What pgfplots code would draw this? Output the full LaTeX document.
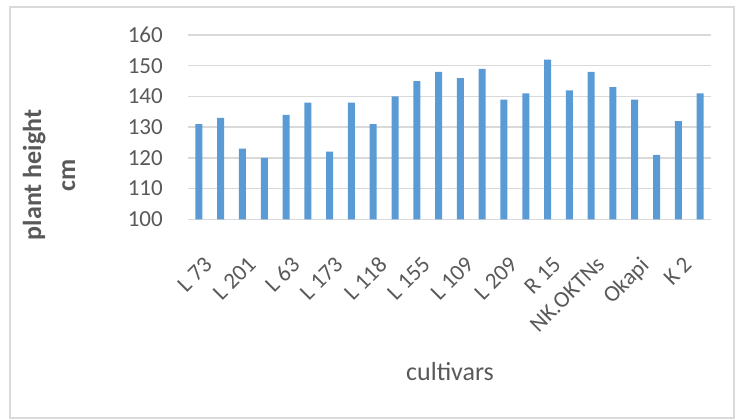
\documentclass[border=0pt]{standalone}
\usepackage{pgfplots}
\pgfplotsset{compat=1.18}
\usepackage{fontspec}
\setmainfont{Carlito}
\definecolor{barblue}{HTML}{5B9BD5}
\definecolor{gridgray}{HTML}{D9D9D9}
\definecolor{txtgray}{HTML}{595959}
\begin{document}
\begin{tikzpicture}
\useasboundingbox (0bp,0bp) rectangle (735bp,419bp);
% chart frame
\draw[gridgray, line width=1.2bp] (10bp,1bp) rectangle (734bp,412bp);
\begin{axis}[
  at={(188bp,199.7bp)}, anchor=south west,
  scale only axis, width=523bp, height=184.3bp,
  xmin=0.5, xmax=24.5, ymin=100, ymax=160,
  ytick={100,110,...,160},
  xtick={1,3,...,23},
  xticklabels={L 73,L 201,L 63,L 173,L 118,L 155,L 109,L 209,R 15,NK.OKTNs,Okapi,K 2},
  major tick length=0pt,
  axis line style={draw=none},
  ymajorgrids, grid style={gridgray, line width=1.5bp},
  /pgf/number format/assume math mode=true,
  tick label style={font=\fontsize{23bp}{26bp}\selectfont, text=txtgray},
  yticklabel style={anchor=east, inner sep=0pt, xshift=-25bp},
  xticklabel style={anchor=north east, inner sep=0pt, xshift=4bp, yshift=-36bp, rotate=45},
  clip=false,
]
\addplot[ybar, bar width=7bp, fill=barblue, draw=none] coordinates {
  (1,131) (2,133) (3,123) (4,120) (5,134) (6,138) (7,122) (8,138)
  (9,131) (10,140) (11,145) (12,148) (13,146) (14,149) (15,139) (16,141)
  (17,152) (18,142) (19,148) (20,143) (21,139) (22,121) (23,132) (24,141)
};
\end{axis}
% axis titles
\node[rotate=90, align=center, text=txtgray, font=\bfseries\fontsize{26bp}{34bp}\selectfont]
  at (49bp,244bp) {plant height\\cm};
\node[text=txtgray, font=\fontsize{26bp}{30bp}\selectfont] at (450bp,47bp) {cultivars};
\end{tikzpicture}
\end{document}
